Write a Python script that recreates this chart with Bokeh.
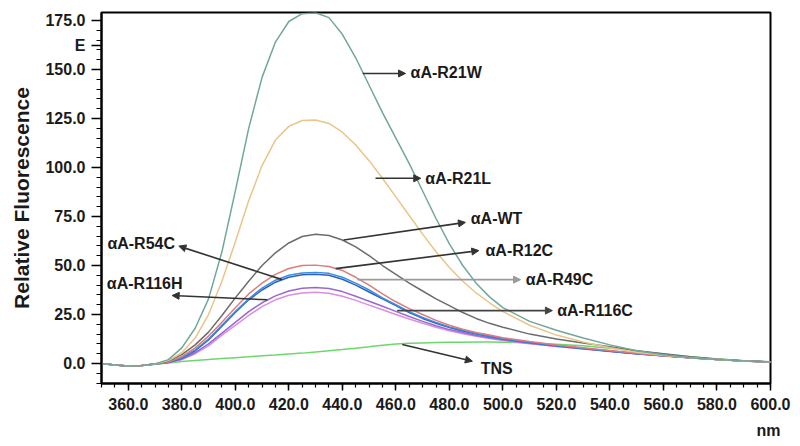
from bokeh.plotting import figure
from bokeh.models import (FixedTicker, PrintfTickFormatter, Arrow, NormalHead,
                          ColumnDataSource, Range1d, Title)
from bokeh.core.properties import value
from bokeh.embed import file_html
from bokeh.resources import INLINE

# ---------------- data ----------------
nm = [350, 355, 360, 365, 370, 375, 380, 385, 390, 395, 400, 405, 410, 415, 420,
      425, 430, 435, 440, 445, 450, 455, 460, 465, 470, 475, 480, 485, 490, 495,
      500, 510, 520, 530, 540, 550, 560, 570, 580, 590, 600]

r21w = [0, -0.8, -1.3, -1.0, -0.2, 2, 8, 18, 33, 57, 88, 120, 146, 164, 174.5,
        178.5, 179, 176.5, 168, 156, 142, 128, 115, 102, 88, 74, 61, 50, 41, 34,
        28.5, 21.5, 17, 13, 9.5, 6.5, 4.5, 3, 2, 1.3, 0.8]
r21l = [0, -0.8, -1.3, -1.0, -0.2, 1.5, 5.5, 13, 25, 42, 62, 83, 101, 114, 121,
        124, 124.2, 122.5, 118, 111.5, 103.5, 94.5, 85, 75.5, 66, 57, 49, 42, 36, 31,
        26.5, 19.5, 14.5, 11, 8, 5.8, 4.2, 3, 2, 1.3, 0.8]
wt = [0, -0.8, -1.3, -1.0, -0.3, 1.2, 4.5, 9.5, 16, 24.5, 33.5, 42, 50, 56.5, 61.5,
      64.8, 66, 65.3, 63, 59.5, 55, 50, 45.5, 41, 37, 33, 29.5, 26, 23, 20.5,
      18.5, 15, 12.5, 10.5, 8.5, 6.5, 5, 3.5, 2.3, 1.4, 0.9]
r12c = [0, -0.8, -1.3, -1.0, -0.3, 0.8, 3.5, 8, 14, 21, 28.5, 35.5, 41, 45.5, 48.5,
        50, 50.2, 49.5, 47.5, 44, 40, 35.5, 31.5, 28, 25, 22, 19.5, 17.5, 15.8, 14.5,
        13.2, 11.2, 9.5, 8, 6.6, 5.2, 4, 3, 2, 1.3, 0.8]
r49c = [0, -0.8, -1.3, -1.0, -0.3, 0.7, 3, 7, 12.5, 19.5, 26.5, 33, 38.5, 42.5, 45,
        46.2, 46.5, 46, 44, 41, 37.5, 33.5, 30, 26.5, 23.5, 21, 18.7, 17, 15.3, 14,
        12.8, 10.9, 9.2, 7.8, 6.4, 5.1, 4, 3, 2, 1.3, 0.8]
r54c = [0, -0.8, -1.3, -1.0, -0.3, 0.6, 2.8, 6.5, 12, 19, 26, 32.5, 37.5, 41.5, 44,
        45.3, 45.6, 45, 43, 40, 36.5, 33, 29.5, 26, 23, 20.5, 18.3, 16.6, 15, 13.8,
        12.6, 10.7, 9.1, 7.7, 6.3, 5, 3.9, 2.9, 2, 1.3, 0.8]
r116h = [0, -0.8, -1.3, -1.0, -0.3, 0.5, 2.2, 5.5, 10, 15.5, 21, 26.5, 31, 34.5, 37,
         38.4, 38.8, 38.3, 36.7, 34.3, 31.8, 29.2, 26.6, 24, 21.5, 19.3, 17.3, 15.8, 14.3, 13.2,
         12.1, 10.3, 8.8, 7.5, 6.2, 5, 3.9, 2.9, 2, 1.3, 0.8]
r116c = [0, -0.8, -1.3, -1.0, -0.3, 0.4, 2, 5, 9, 14.5, 19.5, 24.5, 29, 32.5, 34.8,
         36, 36.3, 35.8, 34.3, 32.2, 29.8, 27.4, 25, 22.7, 20.5, 18.5, 16.7, 15.2, 13.9, 12.8,
         11.8, 10.1, 8.7, 7.4, 6.1, 4.9, 3.8, 2.8, 2, 1.3, 0.8]
tns = [0, -0.8, -1.3, -1.0, -0.4, 0.3, 1.0, 1.5, 2.0, 2.5, 3.0, 3.4, 3.9, 4.3, 4.8,
       5.3, 5.9, 6.5, 7.1, 7.8, 8.5, 9.3, 10, 10.3, 10.5, 10.7, 10.8, 10.9, 11, 11,
       10.9, 10.5, 9.8, 9.0, 7.8, 6.4, 4.9, 3.5, 2.3, 1.4, 0.8]

series_names = ["TNS", "αA-R116C", "αA-R116H", "αA-R54C", "αA-R49C", "αA-R12C",
                "αA-WT", "αA-R21L", "αA-R21W"]
series_values = [tns, r116c, r116h, r54c, r49c, r12c, wt, r21l, r21w]
series_colors = ["#6cd86c", "#d98ede", "#9a68d2", "#2f5fc0", "#3c8fdc", "#e07b7b",
                 "#6c6c6c", "#e9c58a", "#6fa89b"]

# annotation labels: text, text position, arrow start (on curve), arrow end
ann_text = ["αA-R21W", "αA-R21L", "αA-WT", "αA-R12C", "αA-R49C", "αA-R116C",
            "αA-R54C", "αA-R116H", "TNS"]
ann_tx = [465.5, 471.0, 488.0, 493.5, 508.5, 520.3, 352.2, 352.0, 491.7]
ann_ty = [148.5, 94.5, 74.0, 57.6, 42.8, 27.0, 61.0, 40.6, -2.7]
arr_x0 = [447.6, 452.4, 440.5, 437.5, 445.6, 460.5, 417.5, 412.0, 462.4]
arr_y0 = [148.0, 94.5, 63.0, 48.4, 42.8, 27.0, 42.8, 32.5, 9.7]
arr_x1 = [463.6, 469.3, 486.0, 491.0, 506.6, 518.5, 378.9, 376.4, 488.6]
arr_y1 = [148.0, 94.5, 72.0, 57.6, 42.8, 27.0, 59.9, 34.7, 1.2]
arr_colors = ["#333333", "#333333", "#333333", "#333333", "#9a9a9a", "#444444",
              "#333333", "#333333", "#333333"]

x_major = [360, 380, 400, 420, 440, 460, 480, 500, 520, 540, 560, 580, 600]
x_minor = list(range(350, 601, 5))
y_major = [0, 25, 50, 75, 100, 125, 150, 175]
y_minor = list(range(-10, 180, 5))
y_extra_tick = 162.5
y_extra_label = "E"
x_unit = "nm"

FONT = "Liberation Sans"

p = figure(width=800, height=446, output_backend="svg", toolbar_location=None,
           x_range=Range1d(350, 600), y_range=Range1d(-10.2, 179.1),
           min_border_left=101, min_border_right=30, min_border_top=12,
           min_border_bottom=63)
p.grid.visible = False
p.outline_line_color = "black"
p.outline_line_width = 2
p.background_fill_color = "white"
p.border_fill_color = "white"

for name, vals, col in zip(series_names, series_values, series_colors):
    p.line(nm, vals, line_color=col, line_width=1.5)

# arrows
for x0, y0, x1, y1, c in zip(arr_x0, arr_y0, arr_x1, arr_y1, arr_colors):
    p.add_layout(Arrow(x_start=x0, y_start=y0, x_end=x1, y_end=y1,
                       line_color=c, line_width=1.6,
                       end=NormalHead(size=7, fill_color=c, line_color=c)))

src = ColumnDataSource(dict(x=ann_tx, y=ann_ty, t=ann_text))
p.text(x="x", y="y", text="t", source=src, text_font=value(FONT),
       text_font_style="bold", text_font_size="16px", text_baseline="middle",
       text_align="left", text_color="#1a1a1a")

# axes
p.xaxis.ticker = FixedTicker(ticks=x_major, minor_ticks=x_minor)
p.yaxis.ticker = FixedTicker(ticks=y_major + [y_extra_tick], minor_ticks=y_minor)
p.xaxis.formatter = PrintfTickFormatter(format="%.1f")
p.yaxis.formatter = PrintfTickFormatter(format="%.1f")
p.yaxis.major_label_overrides = {y_extra_tick: y_extra_label}
for ax in (p.xaxis[0], p.yaxis[0]):
    ax.axis_line_width = 2
    ax.axis_line_color = "black"
    ax.major_tick_line_color = "black"
    ax.minor_tick_line_color = "black"
    ax.major_tick_line_width = 1.5
    ax.minor_tick_line_width = 1.2
    ax.major_tick_in = 0
    ax.minor_tick_in = 0
    ax.major_label_text_font = FONT
    ax.major_label_text_font_style = "bold"
    ax.major_label_text_font_size = "16px"
    ax.major_label_text_color = "#1a1a1a"
p.xaxis.major_tick_out = 7
p.xaxis.minor_tick_out = 4
p.xaxis.major_label_standoff = 7
p.yaxis.major_tick_out = 10
p.yaxis.minor_tick_out = 5
p.yaxis.major_label_standoff = 6
p.yaxis.axis_label = "Relative Fluorescence"
p.yaxis.axis_label_text_font = FONT
p.yaxis.axis_label_text_font_style = "bold"
p.yaxis.axis_label_text_font_size = "21px"
p.yaxis.axis_label_text_color = "#1a1a1a"
p.yaxis.axis_label_standoff = 9

unit_title = Title(text=x_unit, align="right", text_font=FONT, text_font_style="bold",
                   text_font_size="16px", text_color="#1a1a1a", standoff=14, offset=-10)
p.add_layout(unit_title, "below")

open("out.html", "w").write(file_html(p, INLINE))
